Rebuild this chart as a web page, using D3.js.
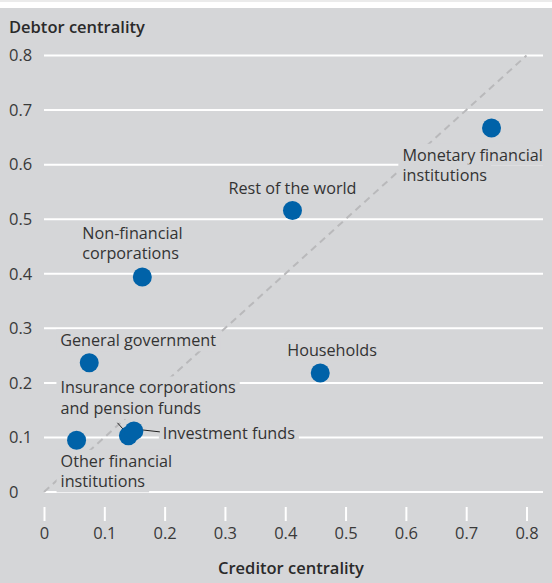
<!DOCTYPE html>
<html><head><meta charset="utf-8">
<script src="https://cdn.jsdelivr.net/npm/d3@7"></script>
<style>
html,body{margin:0;padding:0;background:#fff;}
svg{display:block;}
text{font-family:"Open Sans","Noto Sans",sans-serif;}
</style></head>
<body>
<svg id="chart" width="552" height="583"></svg>
<script>
// ---- data ----
const sectors = ["Monetary financial institutions","Rest of the world","Non-financial corporations","General government","Households","Insurance corporations and pension funds","Investment funds","Other financial institutions"];
const creditorCentrality = [0.742, 0.412, 0.163, 0.075, 0.458, 0.140, 0.149, 0.054];
const debtorCentrality   = [0.667, 0.516, 0.394, 0.237, 0.218, 0.103, 0.112, 0.095];
const labelLines = [
  ["Monetary financial","institutions"],
  ["Rest of the world"],
  ["Non-financial","corporations"],
  ["General government"],
  ["Households"],
  ["Insurance corporations","and pension funds"],
  ["Investment funds"],
  ["Other financial","institutions"]
];
const xTicks = [0,0.1,0.2,0.3,0.4,0.5,0.6,0.7,0.8];
const yTicks = [0,0.1,0.2,0.3,0.4,0.5,0.6,0.7,0.8];
const xTickLabels = ["0","0.1","0.2","0.3","0.4","0.5","0.6","0.7","0.8"];
const yTickLabels = ["0","0.1","0.2","0.3","0.4","0.5","0.6","0.7","0.8"];
const xTitle = "Creditor centrality";
const yTitle = "Debtor centrality";

// ---- layout (px offsets of labels relative to dot) ----
const labelLayout = [
  {dx:-89, dy:27, anchor:"start"},
  {dx:0, dy:-22, anchor:"middle"},
  {dx:-60, dy:-44, anchor:"start"},
  {dx:-29, dy:-22, anchor:"start"},
  {dx:-33, dy:-23, anchor:"start"},
  {dx:-68, dy:-48, anchor:"start", conn:[[-11,-13],[-3,-4]]},
  {dx:29, dy:2, anchor:"start", conn:[[8,-1],[26,1]]},
  {dx:-16, dy:21, anchor:"start"}
];

const W=552,H=583;
const bg="#d5d6d8";
const FS=16.2;
const LH=20.5;
const svg=d3.select("#chart");
svg.append("rect").attr("x",0).attr("y",0).attr("width",W).attr("height",H).attr("fill","#fff");
svg.append("rect").attr("x",0).attr("y",0).attr("width",W).attr("height",2).attr("fill","#ebebeb");
svg.append("rect").attr("x",0).attr("y",8).attr("width",W).attr("height",H-8).attr("fill",bg);

const x=d3.scaleLinear().domain([0,0.8]).range([44,526.5]);
const y=d3.scaleLinear().domain([0,0.8]).range([492,55.5]);
const gridRight=543;

// gridlines
svg.append("g").selectAll("line").data(yTicks).join("line")
  .attr("x1",x(0)).attr("x2",gridRight)
  .attr("y1",d=>y(d)).attr("y2",d=>y(d))
  .attr("stroke","#fff").attr("stroke-width",2);

// y tick labels
svg.append("g").selectAll("text").data(yTicks).join("text")
  .attr("x",9).attr("y",d=>y(d)).attr("dy","0.35em")
  .attr("font-size",16.5).attr("fill","#3a3a3a")
  .text((d,i)=>yTickLabels[i]);

// x axis
const xAxis=d3.axisBottom(x).tickValues(xTicks).tickSize(14).tickPadding(6)
  .tickFormat((d,i)=>xTickLabels[i]);
const gx=svg.append("g").attr("transform","translate(0,507)").call(xAxis);
gx.select(".domain").remove();
gx.selectAll(".tick line").attr("stroke","#fff").attr("stroke-width",2);
gx.selectAll(".tick text").attr("font-size",16.5).attr("fill","#3a3a3a").attr("font-family",null);

// diagonal
svg.append("line").attr("x1",x(0)).attr("y1",y(0)).attr("x2",x(0.8)).attr("y2",y(0.8))
  .attr("stroke","#b9b9bb").attr("stroke-width",2).attr("stroke-dasharray","7,5");

// titles
svg.append("text").attr("x",9).attr("y",33).attr("font-size",16.5).attr("font-weight",600)
  .attr("fill","#2a2a2a").text(yTitle);
svg.append("text").attr("x",291).attr("y",574).attr("text-anchor","middle").attr("font-size",16.5)
  .attr("font-weight",600).attr("fill","#2a2a2a").text(xTitle);

// labels (one background box per line)
const data=sectors.map((s,i)=>({name:s,cx:x(creditorCentrality[i]),cy:y(debtorCentrality[i]),lines:labelLines[i],lay:labelLayout[i]}));
const lblG=svg.append("g");
data.forEach(d=>{
  d.lines.forEach((ln,j)=>{
    const g=lblG.append("g");
    const t=g.append("text").attr("font-size",FS).attr("fill","#333").attr("text-anchor",d.lay.anchor)
      .attr("x",d.cx+d.lay.dx).attr("y",d.cy+d.lay.dy+j*LH).attr("dy","0.35em").text(ln);
    const bb=t.node().getBBox();
    g.insert("rect","text").attr("x",bb.x-4).attr("y",bb.y).attr("width",bb.width+8).attr("height",bb.height).attr("fill",bg);
  });
});

// connectors
data.forEach(d=>{
  if(d.lay.conn){
    svg.append("line").attr("x1",d.cx+d.lay.conn[0][0]).attr("y1",d.cy+d.lay.conn[0][1])
      .attr("x2",d.cx+d.lay.conn[1][0]).attr("y2",d.cy+d.lay.conn[1][1])
      .attr("stroke","#222").attr("stroke-width",1);
  }
});

// dots
svg.append("g").selectAll("circle").data(data).join("circle")
  .attr("cx",d=>d.cx).attr("cy",d=>d.cy).attr("r",9.5).attr("fill","#0062a8");
</script>
</body></html>
